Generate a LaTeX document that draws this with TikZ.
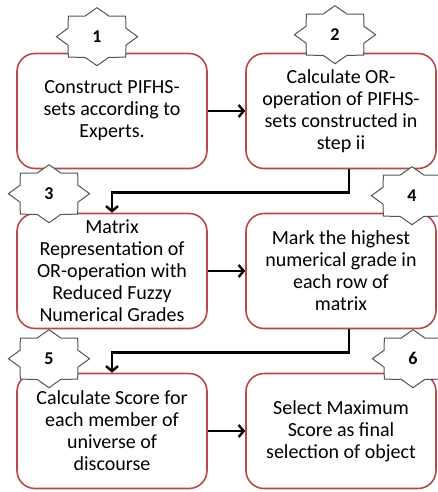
\documentclass[tikz,border=0pt]{standalone}
\usepackage{fontspec}
\setmainfont{Carlito}
\usetikzlibrary{arrows.meta, positioning, shapes.geometric}

\definecolor{boxred}{RGB}{185,72,70}
\definecolor{stargray}{RGB}{85,85,85}

\begin{document}
\begin{tikzpicture}[
        x = 1pt, y = 1pt, node distance = 160pt and 229pt, on grid,
        >= {Straight Barb[length = 5pt, width = 12pt]},
        stepbox/.style = {draw = boxred, line width = 1.6pt, rounded corners = 18pt, fill = white,
            minimum width = 190pt, minimum height = 115pt, align = center,
            font = \fontsize{20}{22}\selectfont},
        numstar/.style = {star, star points = 8, star point ratio = 1.3, draw = stargray,
            line width = 1pt, fill = white, minimum size = 58pt, inner sep = 0pt},
        numtext/.style = {font = \fontsize{18}{20}\selectfont\bfseries},
        flow/.style = {->, line width = 2.4pt}
    ]
      \useasboundingbox (0,0) rectangle (437,-492);

      \node[stepbox] (construct) at (112,-111) {Construct PIFHS-\\sets according to\\Experts.};
      \node[stepbox] (orop) [right = of construct] {Calculate OR-\\operation of PIFHS-\\sets constructed in\\step ii};
      \node[stepbox] (repr) [below = of construct] {Matrix\\Representation of\\OR-operation with\\Reduced Fuzzy\\Numerical Grades};
      \node[stepbox] (mark) [right = of repr] {Mark the highest\\numerical grade in\\each row of\\matrix};
      \node[stepbox] (score) [below = of repr] {Calculate Score for\\each member of\\universe of\\discourse};
      \node[stepbox] (select) [right = of score] {Select Maximum\\Score as final\\selection of object};

      \path[flow]
        (construct) edge (orop)
        (repr) edge (mark)
        (score) edge (select);
      \draw[flow] ([xshift = 8pt]orop.south) -- ++(0,-23) -| (repr.north);
      \draw[flow] ([xshift = 8pt]mark.south) -- ++(0,-23) -| (score.north);

      % step numbers
      \coordinate (c1) at ([shift = {(-15,16)}]construct.north);
      \coordinate (c2) at ([shift = {(-6,18)}]orop.north);
      \coordinate (c3) at ([shift = {(-63,19)}]repr.north);
      \coordinate (c4) at ([shift = {(71,17)}]mark.north);
      \coordinate (c5) at ([shift = {(-63,14)}]score.north);
      \coordinate (c6) at ([shift = {(72,14)}]select.north);
      \begin{scope}[shift = {(c1)}, xscale = 1.4, transform shape]
        \node[numstar] (star1) at (0,0) {};
      \end{scope}
      \begin{scope}[shift = {(c2)}, xscale = 1.4, transform shape]
        \node[numstar] (star2) at (0,0) {};
      \end{scope}
      \begin{scope}[shift = {(c3)}, xscale = 1.4, transform shape]
        \node[numstar] (star3) at (0,0) {};
      \end{scope}
      \begin{scope}[shift = {(c4)}, xscale = 1.4, transform shape]
        \node[numstar] (star4) at (0,0) {};
      \end{scope}
      \begin{scope}[shift = {(c5)}, xscale = 1.4, transform shape]
        \node[numstar] (star5) at (0,0) {};
      \end{scope}
      \begin{scope}[shift = {(c6)}, xscale = 1.4, transform shape]
        \node[numstar] (star6) at (0,0) {};
      \end{scope}
      \node[numtext] (num1) at (c1) {1};
      \node[numtext] (num2) at (c2) {2};
      \node[numtext] (num3) at (c3) {3};
      \node[numtext] (num4) at (c4) {4};
      \node[numtext] (num5) at (c5) {5};
      \node[numtext] (num6) at (c6) {6};
\end{tikzpicture}
\end{document}
